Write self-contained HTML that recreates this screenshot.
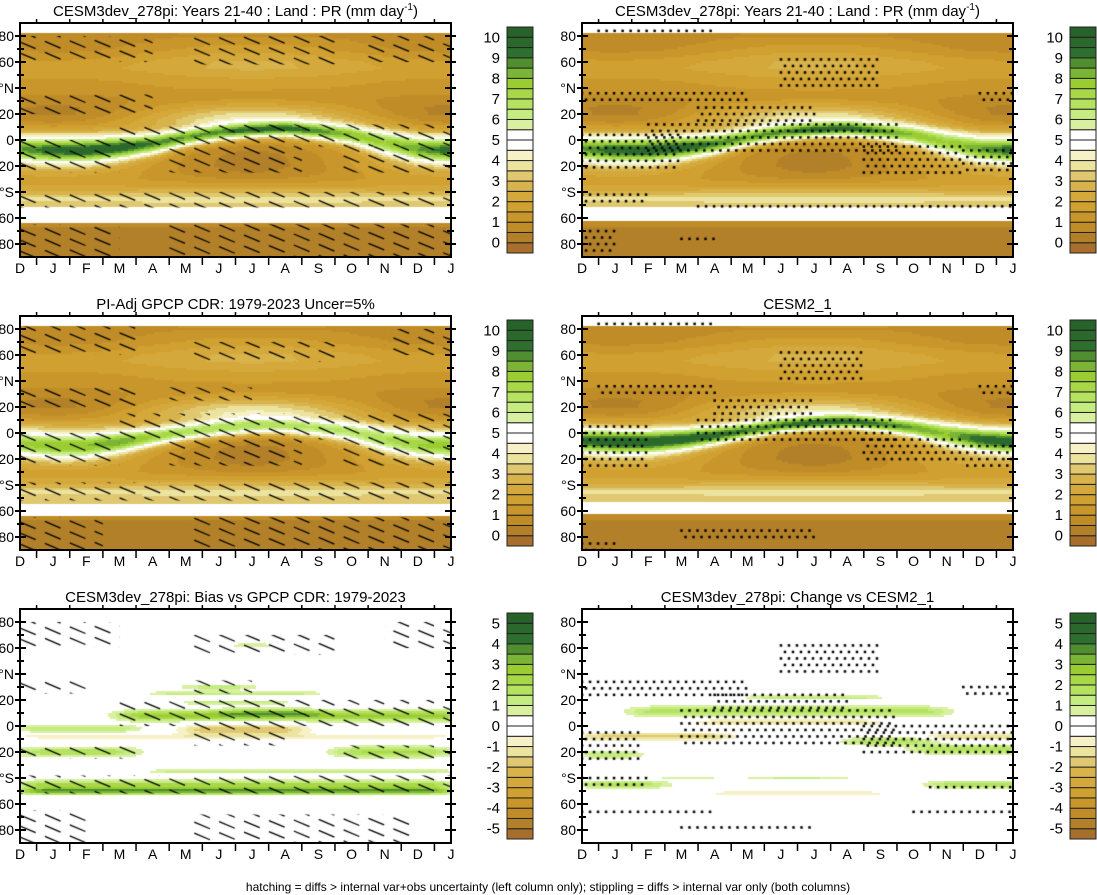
<!DOCTYPE html>
<html><head><meta charset="utf-8">
<style>
html,body{margin:0;padding:0;background:#fff;}
body{width:1097px;height:895px;position:relative;overflow:hidden;font-family:"Liberation Sans",Arial,sans-serif;}
canvas{position:absolute;}
svg{position:absolute;left:0;top:0;}
</style></head>
<body>
<div id="fields"></div>
<svg id="ov" width="1097" height="895">
<text x="548" y="891" text-anchor="middle" font-size="12" fill="#000">hatching = diffs &gt; internal var+obs uncertainty (left column only); stippling = diffs &gt; internal var only (both columns)</text>
</svg>
<script>
// ---------- data ----------
const months = ['D','J','F','M','A','M','J','J','A','S','O','N','D','J'];
const latTicks = [80,60,40,20,0,-20,-40,-60,-80];
const latTickLabels = ['80','60','°N','20','0','20','°S','60','80'];
const fullLevels = ['0','1','2','3','4','5','6','7','8','9','10'];
const diffLevels = ['-5','-4','-3','-2','-1','0','1','2','3','4','5'];
const palette = ['#a86e2c','#b28028','#bf8c28','#c8962a','#d0a030','#d4a83a','#d8b24a','#e0c870','#ece39e','#f6f1c6','#ffffff','#ffffff','#d8f0a0','#c5ec80','#b5e35f','#a8d848','#9acd32','#7ab535','#4f8f30','#2e6e2e','#2a682c','#26622a'];
const bgLats = [85,80,75,70,65,60,55,50,45,40,35,30,25,20,15,10,5,0,-5,-10,-15,-20,-25,-30,-35,-40,-45,-50,-55,-60,-65,-70,-75,-80,-85,-90];
const bgWinter = [1.0,0.8,0.7,0.8,1.2,1.6,1.8,1.6,1.4,1.3,1.0,0.7,0.4,0.4,0.8,1.5,2.5,3,3,3,2.8,2.6,2.2,1.8,2.0,2.6,3.6,3.3,3,1,0.6,0.4,0.3,0.3,0.3,0.3];
const bgSummer = [1.2,1.0,1.4,1.8,2.2,2.6,2.6,2.2,1.8,1.6,1.3,1.6,2.6,3.6,4,3,2,1.5,0.8,0.4,0.3,0.3,0.5,1.0,1.8,3.0,3.8,3.4,3,1,0.6,0.4,0.3,0.3,0.3,0.3];
// ITCZ per month (D..J)
const itczLatModel = [-7,-8,-8,-6,-3,2,6,8,9,7,4,-2,-7,-8];
const itczPeakModel = [8.5,9.5,9.8,9.8,9,8.5,8.8,9.6,9.6,8.8,8,7.5,8.5,9.5];
const itczSigmaModel = [9,9,9,8.5,7.5,6.5,6,5.5,5.5,6,7,9,9,9];
const itczLatObs = [-8,-10,-10,-7,-3,1,4,6,6,4,1,-5,-9,-10];
const itczPeakObs = [7.5,8,8,8.5,7.5,7,7,7,6.8,6.6,6.6,7,7.5,8];
const itczSigmaObs = [9,9,9,8,7,6.5,6.5,6.5,6.5,7,8,9,9,9];
const itczLatCesm2 = [-6,-7,-7,-5,-2,2,6,8,9,7,4,-1,-5,-7];
const itczPeakCesm2 = [9.5,10,10,10,9.5,9,9,9.8,9.8,9,8.5,8,9.5,10];
const itczSigmaCesm2 = [8.5,8.5,8.5,8,7,6,5.5,5,5,5.5,6.5,8.5,8.5,8.5];
// diff streaks: lat, startMonth, endMonth, amplitude, sigma
const biasLat   = [8, 10, -2, -8, -3, -20, -20, -45, -50, 30, 25, -35, 62, 18];
const biasStart = [3, 6, 0, 0, 5, 0, 9.5, 0, 0, 5, 4, 4, 6.5, 5];
const biasEnd   = [13.5, 9, 3.5, 13, 8.5, 3.5, 13, 13, 13, 7, 9, 13, 7.5, 8];
const biasAmp   = [2.6, 1.5, 1.5, -0.8, -2.0, 1.8, 2.0, 2.2, 3.6, 1.4, 1.2, 1.2, 1.2, 1.2];
const biasSig   = [4, 3, 3, 2, 4, 4, 4, 3, 2.5, 2, 2, 2, 2, 2];
const chgLat   = [11, 22, 3, -8, -8, -12, -18, -22, -45, -45, -40, -40, -52];
const chgStart = [1.5, 5, 3.5, 0, 10.5, 8, 10, 0, 0, 10.5, 2.5, 5, 4];
const chgEnd   = [11, 9, 9, 4.5, 13.5, 10.5, 13.5, 1.7, 2.5, 13.5, 4, 8, 9];
const chgAmp   = [1.8, 1.2, -1.2, -1.6, -1.5, 1.8, 1.8, 1.5, 1.8, 1.8, 1.0, 1.0, -1.0];
const chgSig   = [4, 2, 2.5, 3, 2.5, 3, 3.5, 3, 3, 3, 1.5, 1.5, 2];
// hatch regions: [latTop, latBottom, monthStart, monthEnd]
const hatchP1 = [[80,60,0,4],[80,58,5,9.5],[80,60,10.5,13],[35,20,0,4],[12,-5,3,13],[0,-25,0,3],[-5,-25,4.5,8.5],[-5,-25,9.5,13],[-40,-52,0,13],[-65,-90,0,3],[-65,-90,4.5,13]];
const hatchP2 = [[82,60,0,3.5],[70,55,5,9.5],[80,60,11,13],[35,20,0,3.5],[35,25,4.5,7],[15,-5,3,13],[0,-25,0,3],[-5,-25,4.5,8.5],[-5,-25,9.5,13],[-38,-52,0,13],[-65,-90,0,2.5],[-65,-90,5,13]];
const hatchP3 = [[80,60,0,3],[70,55,5,9.5],[80,60,11,13],[35,25,0,2],[35,25,5,7],[20,0,3,13],[0,-15,5,8],[-15,-25,0,3.5],[-15,-25,9.5,13],[-38,-52,0,13],[-65,-90,0,2],[-68,-90,5,12]];
// stipple regions
const stipP4 = [[84,80,0.5,4],[62,38,6,9],[36,28,0,5],[36,28,12,13],[25,14,3.5,7],[12,-10,2,9.5],[4,-25,0,3],[-5,-25,8.5,11.5],[-8,-26,11.5,13],[-42,-49,0,2],[-51,-51,3.5,10.5],[-51,-51,10.5,13],[-70,-88,0,1],[-76,-80,3,4]];
const stipP5 = [[84,80,0.5,4],[62,38,6,8.5],[36,28,0.5,4],[36,28,12,13],[25,14,4,7],[10,-8,3.5,9.5],[5,-25,0,2],[-5,-22,8.5,11.5],[-10,-25,11.5,13],[-75,-80,3,7],[-85,-90,0,1]];
const stipP6 = [[62,38,6,9],[34,24,0,5],[30,22,11.5,13],[24,14,4,8],[12,-14,3,9.5],[0,-22,8.5,13],[-5,-25,0,1.8],[-40,-48,0,2],[-47,-48,10.5,13],[-66,-66,0,4],[-66,-66,10,13],[-78,-78,3,7]];

// ---------- layout ----------
const W = 431, H = 234;
const colX = [20, 582];
const rowY = [23, 316, 609];
const cbX = [507, 1070];
const titles = [
 ['CESM3dev_278pi: Years 21-40 : Land : PR (mm day','CESM3dev_278pi: Years 21-40 : Land : PR (mm day'],
 ['PI-Adj GPCP CDR: 1979-2023 Uncer=5%','CESM2_1'],
 ['CESM3dev_278pi: Bias vs GPCP CDR: 1979-2023','CESM3dev_278pi: Change vs CESM2_1']];

function interp(xs, ys, x){
  if (x>=xs[0]) return ys[0];
  for (let i=0;i<xs.length-1;i++){ if (x<=xs[i] && x>=xs[i+1]){ const t=(xs[i]-x)/(xs[i]-xs[i+1]); return ys[i]*(1-t)+ys[i+1]*t; } }
  return ys[ys.length-1];
}
function interpM(arr, m){ const i=Math.max(0,Math.min(12,Math.floor(m))); const t=m-i; return arr[i]*(1-t)+arr[Math.min(13,i+1)]*t; }
function fullField(itLat, itPeak, itSig, gapTop, gapBot){
  return function(lat, m){
    if (lat>83 || (lat<gapTop && lat>gapBot)) return null;
    const w = (1+Math.cos(2*Math.PI*(m-1)/12))/2;
    const bg = interp(bgLats,bgWinter,lat)*w + interp(bgLats,bgSummer,lat)*(1-w);
    const c = interpM(itLat,m), p = interpM(itPeak,m), s = interpM(itSig,m);
    const g = Math.exp(-Math.pow((lat-c)/s,2));
    return bg*(1-g)+p*g;
  };
}
function smooth(x){ x=Math.max(0,Math.min(1,x)); return x*x*(3-2*x); }
function diffField(la, st, en, am, sg){
  return function(lat, m){
    let v=0;
    for (let k=0;k<la.length;k++){
      const tw = smooth((m-st[k])/1.6+0.5)*smooth((en[k]-m)/1.6+0.5);
      v += am[k]*tw*Math.exp(-Math.pow((lat-la[k])/sg[k],2));
    }
    return v+5;
  };
}
const panels = [
 {r:0,c:0,f:fullField(itczLatModel,itczPeakModel,itczSigmaModel,-52,-64),hatch:hatchP1,stip:null,levels:fullLevels},
 {r:0,c:1,f:fullField(itczLatModel,itczPeakModel,itczSigmaModel,-52,-63),hatch:null,stip:stipP4,levels:fullLevels},
 {r:1,c:0,f:fullField(itczLatObs,itczPeakObs,itczSigmaObs,-55,-64),hatch:hatchP2,stip:null,levels:fullLevels},
 {r:1,c:1,f:fullField(itczLatCesm2,itczPeakCesm2,itczSigmaCesm2,-53,-62),hatch:null,stip:stipP5,levels:fullLevels},
 {r:2,c:0,f:diffField(biasLat,biasStart,biasEnd,biasAmp,biasSig),hatch:hatchP3,stip:null,levels:diffLevels},
 {r:2,c:1,f:diffField(chgLat,chgStart,chgEnd,chgAmp,chgSig),hatch:null,stip:stipP6,levels:diffLevels}];

const NS='http://www.w3.org/2000/svg';
const ov=document.getElementById('ov');
function sv(tag, attrs, parent){ const e=document.createElementNS(NS,tag); for(const k in attrs) e.setAttribute(k,attrs[k]); (parent||ov).appendChild(e); return e; }

panels.forEach((p,pi)=>{
  const x0=colX[p.c], y0=rowY[p.r];
  const xOf=m=>m*W/13, yOf=lat=>(90-lat)/180*H;
  const cv=document.createElement('canvas');
  
  
  cv.width=W; cv.height=H; cv.style.left=x0+'px'; cv.style.top=y0+'px';
  document.getElementById('fields').appendChild(cv);
  const ctx=cv.getContext('2d');
  ctx.fillStyle='#fff'; ctx.fillRect(0,0,W,H);
  const cs=2;
  for (let py=0; py<H; py+=cs){
    const lat=90-(py+cs/2)/H*180;
    for (let px=0; px<W; px+=cs){
      const m=(px+cs/2)/W*13;
      const v=p.f(lat,m);
      if (v===null) continue;
      let k=v<0?0:Math.floor(v/0.5)+1; k=Math.max(0,Math.min(21,k));
      ctx.fillStyle=palette[k]; ctx.fillRect(px,py,cs,cs);
    }
  }
  if (p.hatch){
    ctx.strokeStyle='#000'; ctx.lineWidth=1.3; ctx.setLineDash([17,10]);
    p.hatch.forEach(r=>{
      ctx.save(); ctx.beginPath();
      ctx.rect(xOf(r[2]), yOf(r[0]), xOf(r[3])-xOf(r[2]), yOf(r[1])-yOf(r[0])); ctx.clip();
      for (let b=-300; b<H+50; b+=11){ ctx.beginPath(); ctx.moveTo(0,b); ctx.lineTo(W,b+W*0.42); ctx.stroke(); }
      ctx.restore();
    });
  }
  if (p.stip){
    ctx.fillStyle='#000';
    p.stip.forEach(r=>{
      const ya=yOf(r[0]), yb=yOf(r[1])+0.1, xa=xOf(r[2]), xb=xOf(r[3]);
      let row=0;
      for (let y=ya; y<=yb; y+=6.5, row++){
        for (let x=xa+(row%2?4:0); x<=xb; x+=8){ ctx.fillRect(x-1.2,y-1.2,2.5,2.5); }
      }
    });
  }
  const fr=sv('rect',{x:x0,y:y0,width:W,height:H,fill:'none',stroke:'#000','stroke-width':2});
  
  
  const tt=sv('text',{x:x0+W/2,y:y0-7,'text-anchor':'middle','font-size':15,fill:'#000'});
  
  
  tt.textContent=titles[p.r][p.c];
  if (p.r===0){ const ts=sv('tspan',{dy:-6,'font-size':10},tt); ts.textContent='-1'; const t2=sv('tspan',{dy:6},tt); t2.textContent=')'; }
  for (let lat=-80; lat<=80; lat+=10){
    const y=y0+yOf(lat), major=(lat%20===0);
    const tl=sv('path',{d:`M${x0-(major?5:3)},${y}H${x0+(major?6:4)}M${x0+W-(major?6:4)},${y}H${x0+W+(major?5:3)}`,stroke:'#000','stroke-width':2});
    
    
  }
  latTicks.forEach((lat,i)=>{
    const t=sv('text',{x:x0-6,y:y0+yOf(lat)+5,'text-anchor':'end','font-size':14,fill:'#000'});
    
    
    t.textContent=latTickLabels[i];
  });
  months.forEach((mo,i)=>{
    const t=sv('text',{x:x0+xOf(i),y:y0+H+16,'text-anchor':'middle','font-size':14,fill:'#000'});
    
    
    t.textContent=mo;
    if (i<13){
      const xm=x0+xOf(i+0.5);
      const tk=sv('path',{d:`M${xm},${y0+H}v8M${xm},${y0}v-4`,stroke:'#000','stroke-width':1.5});
      
      
    }
  });
  const cbx=cbX[p.c], cby=y0+4, cbh=226, bh=cbh/22;
  for (let k=0;k<22;k++){
    const r=sv('rect',{x:cbx,y:cby+(21-k)*bh,width:26,height:bh,fill:palette[k],stroke:'#222','stroke-width':1});
    
    
  }
  p.levels.forEach((lab,j)=>{
    const bi=1+2*(10-j);
    const t=sv('text',{x:cbx-7,y:cby+bi*bh+5,'text-anchor':'end','font-size':15,fill:'#000'});
    
    
    t.textContent=lab;
  });
});
</script>
</body></html>
